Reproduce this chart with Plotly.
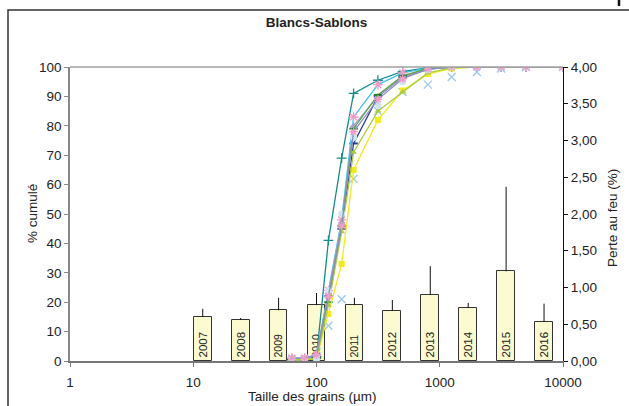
import plotly.graph_objects as go

# Sieve openings (µm) and cumulative passing (%) per sampling year
sieves = [63, 80, 100, 125, 160, 200, 315, 500, 800, 1250, 2000, 3150, 5000, 10000]

cum_2007 = [0.5, 0.5, 1.5, 41, 69, 91, 95.5, 98.5, 99.7, 100, 100, 100, 100, 100]
cum_2008 = [0.5, 0.5, 1, 22, 45, 74, 90, 96.5, 99.3, 100, 100, 100, 100, 100]
cum_2009 = [1, 1, 2, 24, 48, 83, 94, 98, 99.6, 100, 100, 100, 100, 100]
cum_2010 = [0.5, 0.5, 1, 12, 21, 62, 85, 91.5, 94, 96.6, 98.3, 99.5, 100, 100]
cum_2011 = [1, 1, 2, 23, 47, 80, 90, 96.5, 99.3, 100, 100, 100, 100, 100]
cum_2012 = [0.5, 0.5, 1, 20, 46, 79, 90.5, 97, 99.5, 100, 100, 100, 100, 100]
cum_2013 = [0.5, 0.5, 1, 16, 33, 65, 82, 92, 97.6, 99.5, 100, 100, 100, 100]
cum_2014 = [0.5, 0.5, 1, 19, 44, 71, 85, 91.5, 98, 99.7, 100, 100, 100, 100]
cum_2015 = [0.5, 0.5, 1, 24, 50, 76, 87, 95, 99, 100, 100, 100, 100, 100]
cum_2016 = [1, 1, 2, 22, 46, 78, 89, 96, 99.3, 100, 100, 100, 100, 100]

# Loss on ignition (%) per year, with upper error
years = [2007, 2008, 2009, 2010, 2011, 2012, 2013, 2014, 2015, 2016]
perte = [0.60, 0.56, 0.69, 0.76, 0.76, 0.68, 0.90, 0.72, 1.22, 0.53]
perte_err = [0.11, 0.025, 0.17, 0.165, 0.10, 0.15, 0.39, 0.07, 1.15, 0.25]

x_tickvals = [1, 10, 100, 1000, 10000]
x_ticktext = ["1", "10", "100", "1000", "10000"]
left_tickvals = [0, 10, 20, 30, 40, 50, 60, 70, 80, 90, 100]
right_tickvals = [0, 0.5, 1, 1.5, 2, 2.5, 3, 3.5, 4]
right_ticktext = ["0,00", "0,50", "1,00", "1,50", "2,00", "2,50", "3,00", "3,50", "4,00"]

FONT = "Liberation Sans, Arial, sans-serif"
TXT = 13.5

# plot-area geometry in pixels (used for title/frame placement in paper units)
L, R, T, B = 70, 563, 67, 361
PW, PH = R - L, B - T


def px_x(px):
    return (px - L) / PW


def px_y(py):
    return (B - py) / PH


fig = go.Figure()

# Loss-on-ignition bars (base subplot: hidden year axis + right axis)
fig.add_trace(go.Bar(
    x=years, y=perte, xaxis="x", yaxis="y",
    width=0.47,
    marker=dict(color="#FCFAD0", line=dict(color="#333333", width=1)),
    text=[str(y) for y in years],
    textposition="inside", insidetextanchor="start", textangle=-90,
    textfont=dict(family=FONT, size=11.5, color="#222222"),
    error_y=dict(type="data", symmetric=False, array=perte_err,
                 arrayminus=[0] * len(perte), width=0, thickness=1, color="#111111"),
    showlegend=False,
))

# Grain-size curves (overlay subplot: log x axis + left axis)
PINK = "#F09CC8"
curves = [
    ("2007", cum_2007, "#128C8C", dict(symbol="cross-thin-open", size=7, color="#128C8C", line=dict(width=1.3)), "lines+markers"),
    ("2008", cum_2008, "#2B3C9C", dict(symbol="line-ew-open", size=6, color="#2B3C9C", line=dict(width=2)), "lines+markers"),
    ("2009", cum_2009, "#3EC3F0", dict(symbol="asterisk-open", size=8, color=PINK, line=dict(width=1.3)), "lines+markers"),
    ("2010", cum_2010, "#9CC8F0", dict(symbol="x-thin-open", size=8, color="#9CC8F0", line=dict(width=1.3)), "markers"),
    ("2011", cum_2011, "#A8A0D8", dict(symbol="triangle-up", size=7, color="#A8A0D8"), "lines+markers"),
    ("2012", cum_2012, "#5AA83C", dict(symbol="line-ew-open", size=6, color="#1E7A2E", line=dict(width=2)), "lines+markers"),
    ("2013", cum_2013, "#F2EC10", dict(symbol="square", size=6, color="#F2EC10"), "lines+markers"),
    ("2014", cum_2014, "#A8CC3C", dict(symbol="triangle-up", size=6, color="#A8CC3C"), "lines+markers"),
    ("2015", cum_2015, "#CCE6F4", dict(symbol="circle", size=7, color="#CCE6F4"), "markers"),
    ("2016", cum_2016, "#8E8EBC", dict(symbol="asterisk-open", size=7, color=PINK, line=dict(width=1.3)), "lines+markers"),
]
for name, vals, col, mk, mode in curves:
    fig.add_trace(go.Scatter(
        x=sieves, y=vals, xaxis="x2", yaxis="y2", name=name, mode=mode,
        line=dict(color=col, width=1.3), marker=mk, showlegend=False,
    ))

title_font = dict(family=FONT, size=TXT, color="#222222")

fig.update_layout(
    width=629, height=406,
    margin=dict(l=L, r=629 - R, t=T, b=406 - B),
    paper_bgcolor="white", plot_bgcolor="rgba(0,0,0,0)",
    font=dict(family=FONT, size=TXT, color="#222222"),
    title=dict(text="<b>Blancs-Sablons</b>", x=0.5, xref="paper", xanchor="center",
               y=1 - 22 / 406, yref="container", yanchor="middle",
               font=dict(family=FONT, size=13.5, color="#222222")),
    bargap=0,
    xaxis=dict(visible=False, range=[2003.5, 2016.5], fixedrange=True, automargin=False),
    yaxis=dict(side="right", range=[0, 4], tickvals=right_tickvals, ticktext=right_ticktext,
               showgrid=False, zeroline=False, showline=True, linecolor="#111111", linewidth=1,
               ticks="outside", ticklen=4, tickcolor="#111111", tickfont=dict(size=TXT),
               automargin=False),
    xaxis2=dict(type="log", range=[0, 4], overlaying="x", side="bottom", anchor="y2",
                tickvals=x_tickvals, ticktext=x_ticktext, tickfont=dict(size=TXT),
                showgrid=False, zeroline=False, showline=True, linecolor="#777777", linewidth=1.5,
                ticks="outside", ticklen=4, tickcolor="#777777", ticklabelstandoff=4,
                automargin=False),
    yaxis2=dict(overlaying="y", side="left", anchor="x2", range=[0, 100],
                tickvals=left_tickvals, showgrid=False, zeroline=False, tickfont=dict(size=TXT),
                showline=True, linecolor="#888888", linewidth=1.5,
                ticks="outside", ticklen=4, tickcolor="#888888", automargin=False),
    yaxis3=dict(overlaying="y", side="right", anchor="x", range=[0, 4],
                tickvals=right_tickvals, showticklabels=False, showgrid=False,
                zeroline=False, showline=False, ticks="inside", ticklen=4, tickcolor="#111111",
                automargin=False),
    annotations=[
        dict(text="% cumulé", xref="paper", yref="paper", x=px_x(32), y=px_y(214),
             textangle=-90, showarrow=False, xanchor="center", yanchor="middle", font=title_font),
        dict(text="Perte au feu (%)", xref="paper", yref="paper", x=px_x(612), y=px_y(218),
             textangle=-90, showarrow=False, xanchor="center", yanchor="middle", font=title_font),
        dict(text="Taille des grains (µm)", xref="paper", yref="paper", x=px_x(312), y=px_y(396),
             showarrow=False, xanchor="center", yanchor="middle", font=title_font),
    ],
    shapes=[
        # top border of the plot area
        dict(type="line", xref="paper", yref="paper", x0=0, x1=1, y0=1, y1=1,
             line=dict(color="#A0A0A0", width=1.5)),
        # chart frame
        dict(type="rect", xref="paper", yref="paper", x0=px_x(8), x1=1.3,
             y0=-0.3, y1=px_y(10), line=dict(color="#333333", width=1.5)),
        dict(type="line", xref="paper", yref="paper", x0=px_x(619), x1=px_x(619),
             y0=px_y(6), y1=px_y(-2), line=dict(color="#111111", width=2.5)),
    ],
)

fig.write_html("out.html")
